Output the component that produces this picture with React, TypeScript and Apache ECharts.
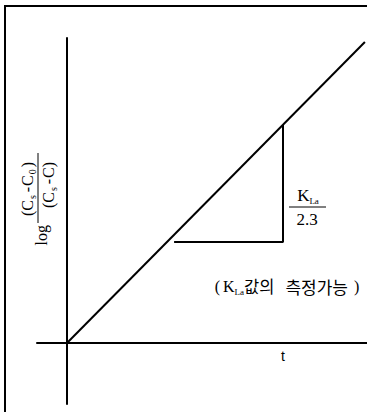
import React, { useEffect, useRef } from "react";
import * as echarts from "echarts";

// axis extents (time t, log concentration ratio)
const tRange = [-1, 10];
const logRange = [-2, 10];

// straight-line relation: log((Cs-C0)/(Cs-C)) against t
const lineT = [0, 9.93];
const lineLog = [0, 9.87];

// slope triangle drawn under the line
const triT = [3.57, 7.2, 7.2];
const triLog = [3.31, 3.31, 7.15];

const xName = "t";
const numerText = "{a|(C}{b|s}{d|-}{a|C}{b|0}{a|)}";
const denomText = "{a|(C}{b|s}{d|-}{a|C)}";
const slopeTop = "{k|K}{s|La}";
const slopeBottom = "2.3";
const noteText = "{p|(}{n|K}{s|La}{h|값의}{g|측정가능}{n|)}";

export default function App() {
  const ref = useRef<HTMLDivElement>(null);

  useEffect(() => {
    document.body.style.margin = "0";
    const chart = echarts.init(ref.current!, null, { renderer: "svg" });
    const serif = "'Liberation Serif', 'Times New Roman', serif";
    const sans = "'Liberation Sans', Arial, sans-serif";
    const kr = "'Noto Sans CJK KR', sans-serif";
    const black = "#000";

    const axisCommon = {
      type: "value",
      axisLine: { show: true, onZero: true, lineStyle: { color: black, width: 2 } },
      axisTick: { show: false },
      axisLabel: { show: false },
      splitLine: { show: false },
    };

    const fracRich = {
      a: { fontFamily: serif, fontSize: 16, lineHeight: 20, fill: black, color: black },
      d: { fontFamily: serif, fontSize: 16, lineHeight: 20, padding: [0, 1, 0, 1], fill: black, color: black },
      b: { fontFamily: serif, fontSize: 10, verticalAlign: "bottom", padding: [0, 2, 0, 1], fill: black, color: black },
    };

    chart.setOption({
      animation: false,
      backgroundColor: "#fff",
      grid: { left: 37, right: 0, top: 38, bottom: 8 },
      xAxis: { ...axisCommon, min: tRange[0], max: tRange[1] },
      yAxis: { ...axisCommon, min: logRange[0], max: logRange[1] },
      series: [
        {
          type: "line",
          data: lineT.map((t, i) => [t, lineLog[i]]),
          symbol: "none",
          lineStyle: { color: black, width: 2 },
          silent: true,
        },
        {
          type: "line",
          data: triT.map((t, i) => [t, triLog[i]]),
          symbol: "none",
          lineStyle: { color: black, width: 2 },
          silent: true,
        },
      ],
      graphic: [
        // frame on the left and top
        { type: "line", shape: { x1: 5, y1: 5, x2: 5, y2: 412 }, style: { stroke: black, lineWidth: 2 } },
        { type: "line", shape: { x1: 5, y1: 6, x2: 367, y2: 6 }, style: { stroke: black, lineWidth: 2 } },
        // y-axis title: log (Cs-C0)/(Cs-C), written bottom to top
        {
          type: "group",
          x: 38,
          y: 188,
          rotation: Math.PI / 2,
          children: [
            { type: "line", shape: { x1: -35, y1: 0, x2: 35, y2: 0 }, style: { stroke: black, lineWidth: 1 } },
            {
              type: "text",
              x: -1,
              y: -11,
              style: { text: numerText, rich: fracRich, align: "center", verticalAlign: "middle" },
            },
            {
              type: "text",
              x: 3,
              y: 10,
              style: { text: denomText, rich: fracRich, align: "center", verticalAlign: "middle" },
            },
            {
              type: "text",
              x: -37,
              y: 3,
              style: {
                text: "log",
                fontFamily: serif,
                fontSize: 16,
                fill: black,
                align: "right",
                verticalAlign: "middle",
              },
            },
          ],
        },
        // slope label KLa / 2.3
        { type: "line", shape: { x1: 289, y1: 207, x2: 326, y2: 207 }, style: { stroke: black, lineWidth: 1 } },
        {
          type: "text",
          x: 308,
          y: 195,
          style: {
            text: slopeTop,
            rich: {
              k: { fontFamily: serif, fontSize: 17, lineHeight: 20, fill: black, color: black },
              s: { fontFamily: serif, fontSize: 9, verticalAlign: "bottom", fill: black, color: black },
            },
            align: "center",
            verticalAlign: "middle",
          },
        },
        {
          type: "text",
          x: 307,
          y: 219,
          style: {
            text: slopeBottom,
            fontFamily: serif,
            fontSize: 17,
            fill: black,
            align: "center",
            verticalAlign: "middle",
          },
        },
        // note: KLa can be measured
        {
          type: "text",
          x: 287,
          y: 286,
          style: {
            text: noteText,
            rich: {
              p: { fontFamily: serif, fontSize: 16, lineHeight: 20, padding: [0, 3, 0, 0], fill: black, color: black },
              n: { fontFamily: serif, fontSize: 16, lineHeight: 20, fill: black, color: black },
              s: { fontFamily: serif, fontSize: 9, verticalAlign: "bottom", fill: black, color: black },
              h: { fontFamily: kr, fontSize: 16.5, lineHeight: 20, padding: [0, 11, 0, 0], fill: black, color: black },
              g: { fontFamily: kr, fontSize: 17, lineHeight: 20, padding: [0, 6, 0, 0], fill: black, color: black },
            },
            align: "center",
            verticalAlign: "middle",
          },
        },
        // x-axis name
        {
          type: "text",
          x: 283,
          y: 356,
          style: {
            text: xName,
            fontFamily: sans,
            fontSize: 14,
            fill: black,
            align: "center",
            verticalAlign: "middle",
          },
        },
      ],
    });

    return () => chart.dispose();
  }, []);

  return <div ref={ref} style={{ width: 367, height: 412 }} />;
}
